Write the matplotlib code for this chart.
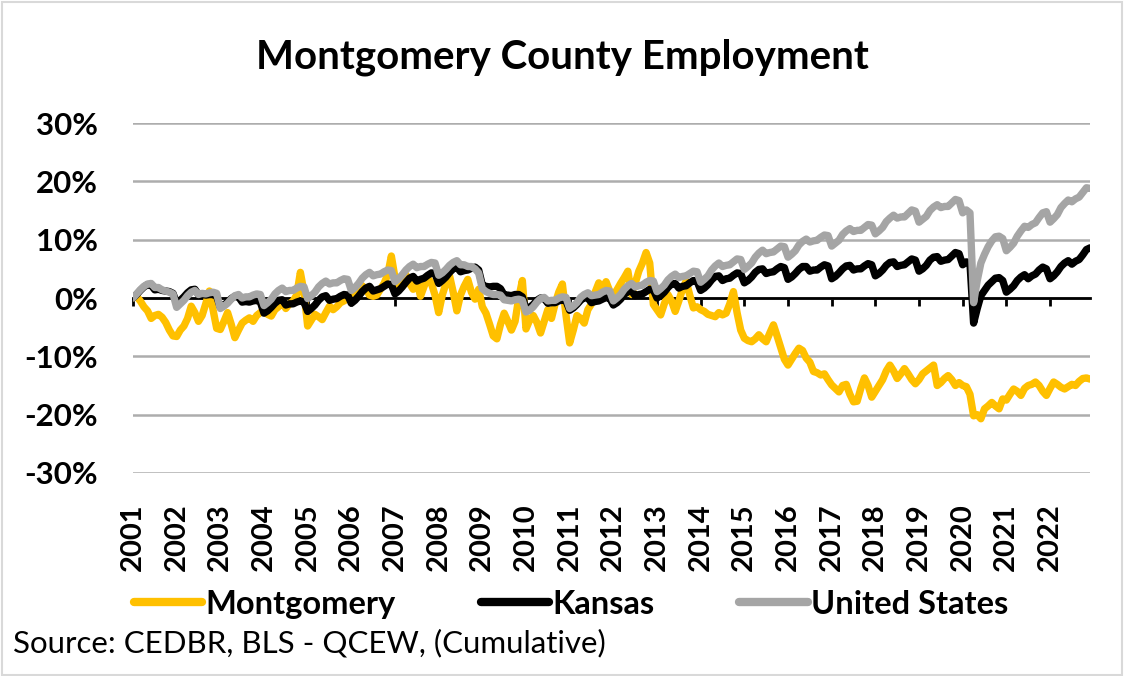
import matplotlib
matplotlib.use("Agg")
import matplotlib.pyplot as plt
import numpy as np

# cumulative change in employment since Jan 2001, percent, one row per year (Jan..Dec)
years = list(range(2001, 2023))

montgomery = [
    [0.0, 0.3, -0.5, -1.5, -2.2, -3.5, -3.0, -2.8, -3.3, -4.2, -5.5, -6.5],
    [-6.6, -5.5, -4.8, -3.5, -1.4, -2.5, -4.0, -3.0, -1.0, 1.2, -2.0, -5.2],
    [-5.4, -4.0, -2.5, -4.5, -6.8, -5.5, -4.3, -3.8, -3.4, -4.0, -3.0, -2.5],
    [-2.0, -2.8, -3.1, -2.0, -1.5, -0.5, -1.8, -1.0, -0.5, 0.5, 4.4, 1.0],
    [-4.8, -3.8, -2.8, -3.2, -3.7, -2.5, -1.4, -2.0, -1.5, -0.8, -0.5, 0.0],
    [-0.2, 0.5, 1.2, 2.1, 1.5, 0.5, 0.3, 0.5, 1.5, 2.5, 4.0, 7.2],
    [3.5, 2.0, 3.0, 4.0, 2.5, 1.5, 3.0, 0.3, 2.0, 3.5, 2.5, 0.5],
    [-2.5, 0.5, 2.5, 3.8, 1.0, -2.2, 0.5, 2.0, 3.2, 1.0, -0.2, 1.5],
    [-1.5, -2.6, -4.5, -6.5, -7.0, -4.5, -2.6, -4.0, -5.5, -4.0, 0.0, 3.0],
    [-5.3, -3.8, -3.0, -4.2, -6.0, -4.0, -2.0, -3.5, -1.0, 1.0, 2.4, -3.0],
    [-7.7, -5.5, -3.0, -3.5, -4.3, -2.0, -1.0, 1.0, 2.6, 1.5, 2.8, 1.2],
    [0.5, 1.4, 2.5, 3.5, 4.6, 0.6, 2.5, 4.6, 6.0, 7.8, 6.0, -1.1],
    [-2.0, -2.9, -1.0, 0.6, -0.5, -2.3, -0.5, 1.5, 2.9, 0.5, -1.7, -1.5],
    [-2.0, -2.3, -2.8, -3.0, -3.2, -2.5, -2.9, -2.6, -1.0, 1.1, -2.5, -5.5],
    [-6.9, -7.3, -7.5, -7.0, -6.3, -7.0, -7.5, -6.0, -4.6, -6.5, -8.5, -10.5],
    [-11.5, -10.5, -9.5, -8.6, -9.0, -10.3, -11.0, -12.6, -12.8, -13.2, -13.0, -14.0],
    [-14.9, -15.5, -16.1, -15.0, -14.8, -16.5, -17.8, -17.7, -15.5, -13.7, -15.0, -17.0],
    [-16.0, -15.0, -14.0, -12.5, -11.5, -12.5, -13.8, -13.0, -12.1, -13.0, -14.0, -14.7],
    [-14.0, -13.0, -12.5, -12.0, -11.5, -15.0, -14.5, -13.8, -13.3, -14.0, -15.0, -14.5],
    [-15.0, -15.2, -16.5, -20.2, -20.0, -20.7, -19.0, -18.5, -17.9, -18.5, -19.0, -17.3],
    [-17.5, -16.5, -15.6, -16.0, -16.7, -15.5, -15.0, -14.8, -14.4, -15.0, -16.0, -16.7],
    [-15.5, -14.4, -14.8, -15.3, -15.6, -15.2, -14.8, -15.0, -14.3, -13.8, -13.7, -13.9],
]

kansas = [
    [0.0, 0.6, 1.3, 1.9, 2.3, 2.2, 1.4, 1.5, 1.3, 1.2, 1.1, 0.8],
    [-0.9, -0.4, 0.2, 0.9, 1.4, 1.5, 0.6, 0.7, 0.5, 0.6, 0.6, 0.3],
    [-1.6, -1.2, -0.7, -0.1, 0.3, 0.2, -0.7, -0.6, -0.7, -0.5, -0.4, -0.7],
    [-2.6, -2.2, -1.6, -0.9, -0.4, -0.3, -1.2, -1.0, -1.0, -0.7, -0.5, -0.7],
    [-2.3, -1.8, -1.2, -0.4, 0.2, 0.4, -0.4, -0.2, -0.1, 0.3, 0.6, 0.5],
    [-0.9, -0.4, 0.3, 1.1, 1.7, 2.0, 1.2, 1.4, 1.6, 2.0, 2.4, 2.3],
    [0.7, 1.2, 1.9, 2.7, 3.4, 3.7, 2.9, 3.2, 3.4, 3.9, 4.3, 4.2],
    [2.5, 3.0, 3.6, 4.4, 5.0, 5.3, 4.5, 4.7, 4.8, 5.1, 5.3, 4.8],
    [2.2, 2.0, 1.9, 2.0, 2.0, 1.6, 0.5, 0.5, 0.4, 0.6, 0.6, 0.2],
    [-1.9, -1.6, -1.1, -0.4, 0.0, -0.1, -0.9, -0.8, -0.8, -0.5, -0.3, -0.5],
    [-2.1, -1.7, -1.1, -0.4, 0.1, 0.0, -0.8, -0.6, -0.5, -0.2, 0.1, 0.0],
    [-1.2, -0.8, -0.2, 0.6, 1.1, 1.2, 0.4, 0.6, 0.7, 1.1, 1.5, 1.4],
    [0.0, 0.4, 1.0, 1.8, 2.4, 2.5, 1.7, 2.0, 2.1, 2.6, 3.0, 2.9],
    [1.3, 1.7, 2.3, 3.1, 3.7, 3.8, 3.0, 3.3, 3.4, 3.9, 4.3, 4.2],
    [2.6, 3.0, 3.6, 4.4, 4.9, 5.0, 4.2, 4.4, 4.5, 5.0, 5.4, 5.2],
    [3.2, 3.6, 4.2, 4.9, 5.4, 5.4, 4.6, 4.8, 4.8, 5.3, 5.7, 5.5],
    [3.3, 3.7, 4.3, 5.0, 5.5, 5.6, 4.8, 5.0, 5.0, 5.5, 5.9, 5.7],
    [3.8, 4.2, 4.8, 5.6, 6.1, 6.2, 5.4, 5.6, 5.7, 6.2, 6.7, 6.5],
    [4.6, 5.0, 5.6, 6.5, 7.0, 7.1, 6.3, 6.5, 6.6, 7.2, 7.8, 7.6],
    [5.7, 6.2, 6.0, -4.3, -1.8, 0.4, 1.3, 2.2, 2.8, 3.4, 3.5, 3.0],
    [1.0, 1.5, 2.1, 3.0, 3.6, 4.0, 3.3, 3.8, 4.1, 4.8, 5.3, 5.0],
    [3.3, 3.8, 4.5, 5.4, 6.0, 6.4, 5.8, 6.3, 6.6, 7.4, 8.3, 8.6],
]

united_states = [
    [0.0, 0.7, 1.4, 2.0, 2.4, 2.5, 1.8, 1.8, 1.4, 1.2, 1.0, 0.7],
    [-1.6, -1.0, -0.4, 0.4, 1.0, 1.3, 0.6, 0.8, 0.7, 0.9, 1.0, 0.8],
    [-1.8, -1.4, -0.9, -0.2, 0.4, 0.6, 0.0, 0.2, 0.2, 0.5, 0.7, 0.6],
    [-1.3, -0.8, -0.2, 0.7, 1.3, 1.7, 1.1, 1.3, 1.3, 1.7, 2.0, 1.9],
    [-0.1, 0.4, 1.0, 1.9, 2.5, 2.9, 2.4, 2.6, 2.6, 3.0, 3.3, 3.2],
    [1.3, 1.8, 2.5, 3.4, 4.0, 4.4, 3.8, 4.0, 4.1, 4.5, 4.8, 4.7],
    [2.8, 3.3, 4.0, 4.8, 5.4, 5.8, 5.2, 5.4, 5.4, 5.8, 6.1, 6.0],
    [3.9, 4.3, 4.9, 5.6, 6.1, 6.4, 5.7, 5.7, 5.4, 5.4, 5.0, 4.3],
    [1.6, 1.1, 0.8, 0.6, 0.6, 0.5, -0.3, -0.4, -0.5, -0.3, -0.2, -0.4],
    [-2.4, -2.1, -1.5, -0.7, -0.1, 0.1, -0.5, -0.4, -0.4, 0.0, 0.2, 0.1],
    [-1.8, -1.4, -0.8, 0.1, 0.6, 0.9, 0.4, 0.5, 0.6, 1.0, 1.3, 1.2],
    [-0.5, 0.0, 0.6, 1.5, 2.1, 2.5, 1.9, 2.1, 2.2, 2.7, 3.0, 2.9],
    [1.1, 1.6, 2.2, 3.1, 3.7, 4.1, 3.5, 3.7, 3.8, 4.2, 4.6, 4.5],
    [2.7, 3.2, 3.8, 4.8, 5.5, 6.0, 5.4, 5.6, 5.7, 6.2, 6.7, 6.6],
    [4.9, 5.4, 6.0, 7.0, 7.7, 8.2, 7.6, 7.8, 7.9, 8.4, 8.9, 8.8],
    [7.0, 7.5, 8.1, 9.1, 9.7, 10.1, 9.6, 9.8, 9.9, 10.4, 10.8, 10.7],
    [8.9, 9.4, 9.9, 10.9, 11.5, 11.9, 11.4, 11.6, 11.6, 12.1, 12.6, 12.5],
    [11.0, 11.5, 12.1, 13.1, 13.7, 14.2, 13.7, 13.9, 13.9, 14.5, 15.1, 14.9],
    [13.0, 13.5, 14.0, 15.0, 15.6, 16.0, 15.5, 15.7, 15.7, 16.3, 16.9, 16.7],
    [14.6, 15.1, 14.6, -0.8, 3.0, 6.0, 7.5, 8.8, 9.8, 10.5, 10.6, 10.2],
    [8.1, 8.7, 9.4, 10.6, 11.5, 12.3, 12.1, 12.6, 12.9, 13.8, 14.6, 14.8],
    [13.0, 13.6, 14.3, 15.5, 16.2, 16.8, 16.5, 17.0, 17.3, 18.1, 18.9, 18.8],
]

series_names = ["Montgomery", "Kansas", "United States"]
series_colors = ["#FFC000", "#000000", "#A5A5A5"]

plt.rcParams['font.family'] = ['Lato', 'DejaVu Sans']

fig = plt.figure(figsize=(11.24, 6.76), dpi=100)
fig.patches.append(plt.Rectangle((0.002, 0.002), 0.996, 0.995, transform=fig.transFigure,
                                 fill=False, edgecolor="#D9D9D9", linewidth=1.5))

ax = fig.add_axes([0.1183, 0.3003, 0.8515, 0.5177])

for name, rows, color in zip(series_names, [montgomery, kansas, united_states], series_colors):
    values = np.array(rows).ravel()
    months = np.arange(len(values))
    ax.plot(months, values, color=color, linewidth=5.3, label=name,
            solid_joinstyle="round", solid_capstyle="round")

n_months = len(years) * 12
ax.set_xlim(0, n_months - 1)
ax.set_ylim(-30, 30)

# move the category axis onto the zero line first, it resets the tick labels
for side in ["top", "right", "left"]:
    ax.spines[side].set_visible(False)
ax.spines["bottom"].set_position(("data", 0))
ax.spines["bottom"].set_linewidth(2)
ax.spines["bottom"].set_zorder(1)

ax.set_yticks(range(-30, 31, 10))
ax.set_yticklabels(["{}%".format(v) for v in range(-30, 31, 10)],
                   fontsize=22.5, fontweight="bold")
ax.grid(axis="y", color="#ADADAD", linewidth=1.8)
ax.set_axisbelow(True)

ax.set_xticks(np.arange(0, n_months, 12))
ax.set_xticklabels([str(y) for y in years], rotation=90, fontsize=21, fontweight="bold")
ax.tick_params(axis="x", direction="out", length=6, width=2, pad=142)
ax.tick_params(axis="y", length=0, pad=25)

fig.text(0.5, 0.915, "Montgomery County Employment", ha="center", va="center",
         fontsize=29, fontweight="bold")

leg = fig.legend(loc="center", bbox_to_anchor=(0.508, 0.106), ncol=3, frameon=False,
                 prop={"size": 23.5, "weight": "bold"}, handlelength=2.1,
                 handletextpad=0.1, columnspacing=2.6)
for line in leg.get_lines():
    line.set_linewidth(6)

fig.text(0.012, 0.049, "Source: CEDBR, BLS - QCEW, (Cumulative)", ha="left", va="center",
         fontsize=22.5)

fig.savefig("out.png", dpi=100)
